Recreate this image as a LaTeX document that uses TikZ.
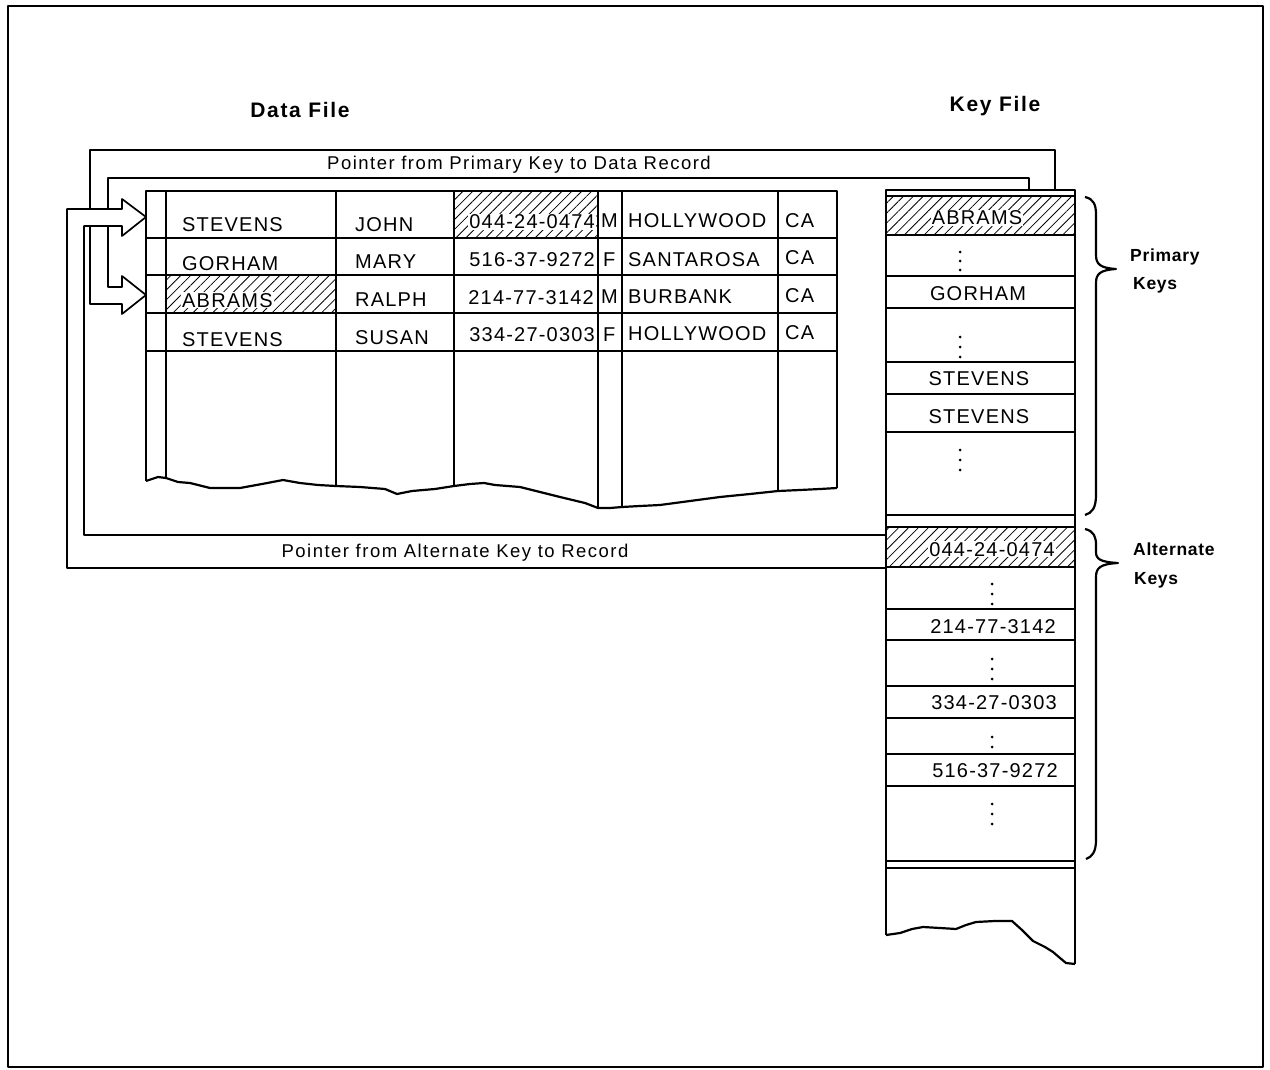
\documentclass[tikz,border=0pt]{standalone}
\usepackage{fontspec}
\setmainfont{Liberation Sans}
\newfontfamily\tabfam[LetterSpace=6]{Liberation Sans}
\newfontfamily\ptrfam[LetterSpace=8]{Liberation Sans}
\newfontfamily\hdfam[LetterSpace=8]{Liberation Sans}
\newfontfamily\brfam[LetterSpace=4]{Liberation Sans}
\usetikzlibrary{patterns.meta}
\newcommand{\tabtxt}{\tabfam\fontsize{20}{24}\selectfont}
\newcommand{\ptrtxt}{\ptrfam\fontsize{18.5}{22}\selectfont}
\newcommand{\hdtxt}{\hdfam\bfseries\fontsize{21}{25}\selectfont}
\newcommand{\brtxt}{\brfam\bfseries\fontsize{17.5}{21}\selectfont}
\tikzset{
  heavy/.style={line width=2.2pt},
  thinrule/.style={line width=1.4pt},
  ptr/.style={line width=1.7pt},
  hatch/.style={pattern={Lines[angle=45,distance=7pt,line width=0.8pt]}},
  txt/.style={font=\tabtxt, inner sep=1pt, fill=white},
  tl/.style={txt, anchor=base west},
  tr/.style={txt, anchor=base east},
  tc/.style={txt, anchor=base},
  ptrlabel/.style={font=\ptrtxt, inner sep=1pt, anchor=base},
  head/.style={font=\hdtxt, inner sep=1pt, anchor=base},
  brlabel/.style={font=\brtxt, inner sep=1pt, anchor=base west},
  dot/.style={fill=black},
}
\begin{document}
\begin{tikzpicture}[x=1pt,y=-1pt,line join=round]
\useasboundingbox (0,0) rectangle (1270,1070);
\draw[line width=1.8pt] (8,6) rectangle (1263,1067);

% headings
\node[head] (hdata) at (300,118) {Data File};
\node[head] (hkey) at (995,112) {Key File};

% hatched cells
\fill[hatch] (166,275) rectangle (336,313);
\fill[hatch] (454,191) rectangle (598,238);
\fill[hatch] (886,196) rectangle (1075,235);
\fill[hatch] (886,527) rectangle (1075,567);

% ---------- data file table ----------
\draw[heavy] (146,481) -- (146,191) -- (837,191) -- (837,488);
\draw[heavy] (166,191) -- (166,478);
\foreach \x/\yb in {336/486,454/486,598/508,622/507,778/491}
  \draw[heavy] (\x,191) -- (\x,\yb);
\foreach \y in {238,275,313,351}
  \draw[thinrule] (146,\y) -- (837,\y);
\draw[heavy] (146,481) -- (152,479) -- (158,477) -- (166,478) -- (178,482) -- (190,483)
  -- (210,488) -- (240,488) -- (262,484) -- (283,480) -- (300,483) -- (318,485)
  -- (336,486) -- (360,487) -- (385,489) -- (397,494) -- (412,491) -- (435,489)
  -- (454,486) -- (470,484) -- (484,483) -- (495,485) -- (520,487) -- (560,497)
  -- (585,503) -- (598,508) -- (610,508) -- (622,507) -- (640,506) -- (660,505)
  -- (690,501) -- (720,497) -- (750,494) -- (778,491) -- (800,490) -- (820,489) -- (837,488);

% row 1
\node[tl] (r1a) at (181,232) {STEVENS};
\node[tl] (r1b) at (354,231) {JOHN};
\node[tr] (r1c) at (596,229) {044-24-0474};
\node[tl] (r1d) at (600,228) {M};
\node[tl] (r1e) at (627,228) {HOLLYWOOD};
\node[tl] (r1f) at (784,227) {CA};
% row 2
\node[tl] (r2a) at (181,270) {GORHAM};
\node[tl] (r2b) at (354,269) {MARY};
\node[tr] (r2c) at (596,266) {516-37-9272};
\node[tl] (r2d) at (602,266) {F};
\node[tl] (r2e) at (627,266) {SANTAROSA};
\node[tl] (r2f) at (784,264) {CA};
% row 3
\node[tl] (r3a) at (181,307) {ABRAMS};
\node[tl] (r3b) at (354,306) {RALPH};
\node[tr] (r3c) at (595,304) {214-77-3142};
\node[tl] (r3d) at (600,303) {M};
\node[tl] (r3e) at (627,303) {BURBANK};
\node[tl] (r3f) at (784,302) {CA};
% row 4
\node[tl] (r4a) at (181,346) {STEVENS};
\node[tl] (r4b) at (354,344) {SUSAN};
\node[tr] (r4c) at (596,341) {334-27-0303};
\node[tl] (r4d) at (602,341) {F};
\node[tl] (r4e) at (627,340) {HOLLYWOOD};
\node[tl] (r4f) at (784,339) {CA};

% ---------- key file ----------
\draw[heavy] (886,935) -- (886,190) -- (1075,190) -- (1075,964);
\foreach \y in {196,235,276,308,362,394,432,515,527,567,609,640,686,718,754,786,861,868}
  \draw[thinrule] (886,\y) -- (1075,\y);
\draw[heavy] (886,935) -- (900,933) -- (912,929) -- (923,927) -- (940,928) -- (956,929)
  -- (966,925) -- (976,922) -- (995,921) -- (1012,921) -- (1022,930) -- (1033,941)
  -- (1045,947) -- (1053,952) -- (1060,958) -- (1066,963) -- (1075,964);

\node[tc] (k1) at (977,225) {ABRAMS};
\node[tc] (k2) at (978,300) {GORHAM};
\node[tc] (k3) at (979,385) {STEVENS};
\node[tc] (k4) at (979,423) {STEVENS};
\node[tc] (k5) at (992,556) {044-24-0474};
\node[tc] (k6) at (993,633) {214-77-3142};
\node[tc] (k7) at (994,709) {334-27-0303};
\node[tc] (k8) at (995,777) {516-37-9272};

% vertical dots
\foreach \y in {252,261,270,337,347,357,450,460,470}
  \fill[dot] (960,\y) circle (1.5);
\foreach \y in {584,594,604,659,669,679,737,747,804,814,824}
  \fill[dot] (992,\y) circle (1.5);

% braces
\draw[heavy] (1085,197) .. controls (1094,199) and (1096,205) .. (1096,215) -- (1096,255)
  .. controls (1096,264) and (1100,268) .. (1116,269)
  .. controls (1100,270) and (1096,274) .. (1096,283) -- (1096,495)
  .. controls (1096,508) and (1092,513) .. (1085,515);
\draw[heavy] (1085,529) .. controls (1094,531) and (1096,537) .. (1096,545) -- (1096,552)
  .. controls (1096,559) and (1100,562) .. (1118,563)
  .. controls (1100,564) and (1096,568) .. (1096,577) -- (1096,840)
  .. controls (1096,852) and (1092,857) .. (1086,859);
\node[brlabel] (lp1) at (1129,261) {Primary};
\node[brlabel] (lp2) at (1132,289) {Keys};
\node[brlabel] (la1) at (1132,555) {Alternate};
\node[brlabel] (la2) at (1133,584) {Keys};

% ---------- pointers ----------
\coordinate (kP1) at (1055,190);
\coordinate (kP2) at (1029,190);
\coordinate (kAl1) at (886,535);
\coordinate (kAl2) at (886,568);
\draw[ptr] (90,209) -- (90,150) -- (1055,150) -- (kP1);
\draw[ptr] (108,209) -- (108,178) -- (1029,178) -- (kP2);
\draw[ptr] (kAl2) -- (67,568) -- (67,209) -- (122,209) -- (122,199) -- (146,217)
  -- (122,236) -- (122,226) -- (84,226) -- (84,535) -- (kAl1);
\draw[ptr] (90,226) -- (90,304) -- (122,304) -- (122,314) -- (146,295)
  -- (122,276) -- (122,287) -- (108,287) -- (108,226);
\node[ptrlabel] (lprim) at (519,169.5) {Pointer from Primary Key to Data Record};
\node[ptrlabel] (lalt) at (455,557.5) {Pointer from Alternate Key to Record};
\end{tikzpicture}
\end{document}
